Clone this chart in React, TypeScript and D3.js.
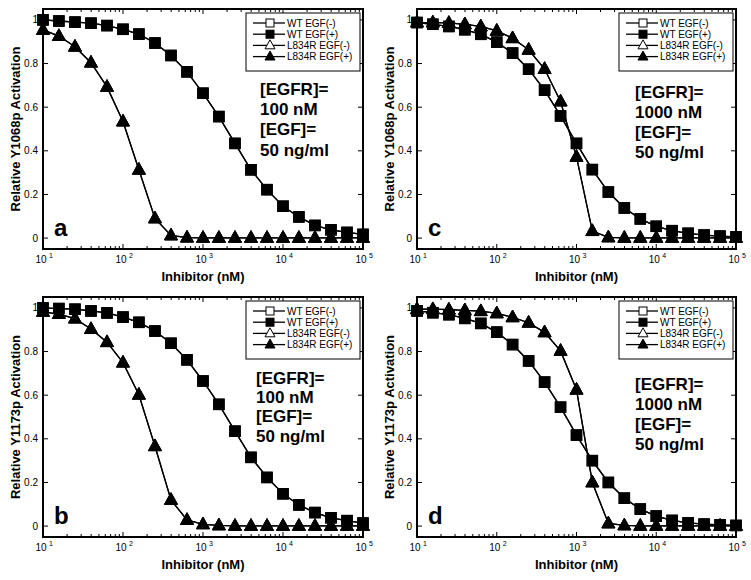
import React from "react";
import * as d3 from "d3";

// Inhibitor concentrations (nM)
const conc = [10, 15.8, 25.1, 39.8, 63.1, 100, 158, 251, 398, 631, 1000, 1580, 2510, 3980, 6310, 10000, 15800, 25100, 39800, 63100, 100000];

// Panel a: Y1068p, [EGFR]=100 nM
const wtA = [1.0, 0.995, 0.99, 0.985, 0.974, 0.957, 0.935, 0.894, 0.837, 0.762, 0.664, 0.557, 0.434, 0.313, 0.222, 0.146, 0.097, 0.058, 0.038, 0.026, 0.017];
const mutA = [0.954, 0.926, 0.877, 0.804, 0.693, 0.534, 0.313, 0.09, 0.012, 0.002, 0.001, 0.001, 0.001, 0.001, 0.001, 0.001, 0.001, 0.001, 0.001, 0.001, 0.001];
// Panel b: Y1173p, [EGFR]=100 nM
const wtB = [1.0, 0.997, 0.994, 0.986, 0.977, 0.958, 0.934, 0.894, 0.838, 0.762, 0.665, 0.558, 0.435, 0.315, 0.223, 0.148, 0.097, 0.062, 0.038, 0.025, 0.014];
const mutB = [0.982, 0.972, 0.951, 0.903, 0.843, 0.749, 0.602, 0.366, 0.12, 0.028, 0.008, 0.003, 0.001, 0.001, 0.001, 0.001, 0.001, 0.001, 0.001, 0.001, 0.001];
// Panel c: Y1068p, [EGFR]=1000 nM
const wtC = [0.988, 0.98, 0.97, 0.955, 0.934, 0.898, 0.848, 0.774, 0.678, 0.56, 0.434, 0.314, 0.211, 0.138, 0.088, 0.054, 0.034, 0.022, 0.014, 0.009, 0.006];
const mutC = [0.988, 0.988, 0.986, 0.98, 0.97, 0.95, 0.916, 0.863, 0.775, 0.626, 0.372, 0.032, 0.003, 0.001, 0.001, 0.001, 0.001, 0.001, 0.001, 0.001, 0.001];
// Panel d: Y1173p, [EGFR]=1000 nM
const wtD = [0.986, 0.978, 0.969, 0.952, 0.929, 0.889, 0.832, 0.757, 0.66, 0.545, 0.417, 0.3, 0.2, 0.128, 0.078, 0.046, 0.026, 0.015, 0.009, 0.006, 0.003];
const mutD = [0.994, 0.994, 0.992, 0.989, 0.985, 0.975, 0.957, 0.932, 0.888, 0.803, 0.625, 0.2, 0.012, 0.003, 0.001, 0.001, 0.001, 0.001, 0.001, 0.001, 0.001];

const legendLabels = ["WT EGF(-)", "WT EGF(+)", "L834R EGF(-)", "L834R EGF(+)"];
const yTicks = [0, 0.2, 0.4, 0.6, 0.8, 1];
const yTickLabels = ["0", "0.2", "0.4", "0.6", "0.8", "1"];
const xTicks = [10, 100, 1000, 10000, 100000];
const xTickExps = ["1", "2", "3", "4", "5"];
const notes100 = ["[EGFR]=", "100 nM", "[EGF]=", "50 ng/ml"];
const notes1000 = ["[EGFR]=", "1000 nM", "[EGF]=", "50 ng/ml"];
const yLabel1068 = "Relative Y1068p Activation";
const yLabel1173 = "Relative Y1173p Activation";
const xLabel = "Inhibitor (nM)";

const FONT = "'Liberation Sans', Arial, Helvetica, sans-serif";

type PanelCfg = {
  letter: string;
  left: number; right: number; top: number; bottom: number;
  ylabel: string;
  wt: number[]; mut: number[];
  notes: string[];
  noteDx: number;
  noteY: number[];
};

const panels: PanelCfg[] = [
  { letter: "a", left: 43, right: 363, top: 9, bottom: 249, ylabel: yLabel1068, wt: wtA, mut: mutA, notes: notes100, noteDx: 217, noteY: [86, 106, 126, 147] },
  { letter: "c", left: 417, right: 736, top: 9, bottom: 249, ylabel: yLabel1068, wt: wtC, mut: mutC, notes: notes1000, noteDx: 218, noteY: [89, 109, 129, 149] },
  { letter: "b", left: 43, right: 363, top: 297, bottom: 537, ylabel: yLabel1173, wt: wtB, mut: mutB, notes: notes100, noteDx: 213, noteY: [87, 106, 125, 145] },
  { letter: "d", left: 417, right: 736, top: 297, bottom: 537, ylabel: yLabel1173, wt: wtD, mut: mutD, notes: notes1000, noteDx: 218, noteY: [93, 113, 133, 153] },
];

function Square({ x, y, s, fill }: { x: number; y: number; s: number; fill: string }) {
  return <rect x={x - s / 2} y={y - s / 2} width={s} height={s} fill={fill} stroke="#000" strokeWidth={1} />;
}
function Tri({ x, y, s, fill }: { x: number; y: number; s: number; fill: string }) {
  const h = s * 0.9;
  const pts = `${x},${y - h * 0.62} ${x - s / 2},${y + h * 0.38} ${x + s / 2},${y + h * 0.38}`;
  return <polygon points={pts} fill={fill} stroke="#000" strokeWidth={1} strokeLinejoin="miter" />;
}

function Panel({ p }: { p: PanelCfg }) {
  const x = d3.scaleLog().domain([10, 1e5]).range([p.left, p.right]);
  const y = d3.scaleLinear().domain([-0.05, 1.05]).range([p.bottom, p.top]);
  const line = d3.line<[number, number]>().x((d) => x(d[0])).y((d) => y(d[1]));
  const pairs = (vals: number[]) => conc.map((c, i) => [c, vals[i]] as [number, number]);

  const minor: number[] = [];
  for (let e = 1; e < 5; e++) for (let m = 2; m <= 9; m++) minor.push(m * Math.pow(10, e));

  const series = [
    { vals: p.mut, shape: "tri", fill: "#fff" },
    { vals: p.mut, shape: "tri", fill: "#000" },
    { vals: p.wt, shape: "sq", fill: "#fff" },
    { vals: p.wt, shape: "sq", fill: "#000" },
  ];
  const legendSeries = [
    { shape: "sq", fill: "#fff" },
    { shape: "sq", fill: "#000" },
    { shape: "tri", fill: "#fff" },
    { shape: "tri", fill: "#000" },
  ];
  const lgRight = p.right - 3;
  const lgLeft = lgRight - 114;
  const lgTop = p.top + 4;
  const midY = (p.top + p.bottom) / 2;

  return (
    <g>
      {series.map((s, i) => (
        <g key={i}>
          <path d={line(pairs(s.vals)) || ""} fill="none" stroke="#000" strokeWidth={1.3} />
          {pairs(s.vals).map((d, j) =>
            s.shape === "sq" ? (
              <Square key={j} x={x(d[0])} y={y(d[1])} s={10.5} fill={s.fill} />
            ) : (
              <Tri key={j} x={x(d[0])} y={y(d[1])} s={13} fill={s.fill} />
            )
          )}
        </g>
      ))}
      <rect x={p.left} y={p.top} width={p.right - p.left} height={p.bottom - p.top} fill="none" stroke="#000" strokeWidth={2} />
      {yTicks.map((t, i) => (
        <g key={"yt" + i}>
          <line x1={p.left} x2={p.left + 5} y1={y(t)} y2={y(t)} stroke="#000" strokeWidth={1} />
          <line x1={p.right} x2={p.right - 5} y1={y(t)} y2={y(t)} stroke="#000" strokeWidth={1} />
          <text x={p.left - 5} y={y(t)} dy="0.35em" textAnchor="end" fontSize={10} fontFamily={FONT}>
            {yTickLabels[i]}
          </text>
        </g>
      ))}
      {xTicks.map((t, i) => (
        <g key={"xt" + i}>
          <line x1={x(t)} x2={x(t)} y1={p.bottom} y2={p.bottom - 5} stroke="#000" strokeWidth={1} />
          <line x1={x(t)} x2={x(t)} y1={p.top} y2={p.top + 5} stroke="#000" strokeWidth={1} />
          <text x={x(t) - 2} y={p.bottom + 14} textAnchor="middle" fontSize={10} fontFamily={FONT}>
            10
          </text>
          <text x={x(t) + 6} y={p.bottom + 9} textAnchor="start" fontSize={7} fontFamily={FONT}>
            {xTickExps[i]}
          </text>
        </g>
      ))}
      {minor.map((t, i) => (
        <g key={"mn" + i}>
          <line x1={x(t)} x2={x(t)} y1={p.bottom} y2={p.bottom - 3} stroke="#000" strokeWidth={1} />
          <line x1={x(t)} x2={x(t)} y1={p.top} y2={p.top + 3} stroke="#000" strokeWidth={1} />
        </g>
      ))}
      <text x={(p.left + p.right) / 2} y={p.bottom + 32} textAnchor="middle" fontSize={13} fontWeight="bold" fontFamily={FONT}>
        {xLabel}
      </text>
      <text transform={`translate(${p.left - 23.5},${midY}) rotate(-90)`} textAnchor="middle" fontSize={13} fontWeight="bold" fontFamily={FONT}>
        {p.ylabel}
      </text>
      <text x={p.left + 11} y={p.bottom - 13} fontSize={24} fontWeight="bold" fontFamily={FONT}>
        {p.letter}
      </text>
      {p.notes.map((n, i) => (
        <text key={"n" + i} x={p.left + p.noteDx} y={p.top + p.noteY[i]} fontSize={17} fontWeight="bold" fontFamily={FONT}>
          {n}
        </text>
      ))}
      <rect x={lgLeft} y={lgTop} width={114} height={58} fill="#fff" stroke="#000" strokeWidth={1} />
      {legendLabels.map((l, i) => {
        const ly = lgTop + 10 + i * 11.2;
        const s = legendSeries[i];
        return (
          <g key={"lg" + i}>
            <line x1={lgLeft + 7} x2={lgLeft + 39} y1={ly} y2={ly} stroke="#000" strokeWidth={1.3} />
            {s.shape === "sq" ? (
              <Square x={lgLeft + 24} y={ly} s={8} fill={s.fill} />
            ) : (
              <Tri x={lgLeft + 24} y={ly} s={10} fill={s.fill} />
            )}
            <text x={lgLeft + 41} y={ly} dy="0.35em" fontSize={10} fontFamily={FONT}>
              {l}
            </text>
          </g>
        );
      })}
    </g>
  );
}

export default function App() {
  return (
    <svg width={751} height={580} style={{ position: "absolute", left: 0, top: 0, background: "#fff" }}>
      <rect width={751} height={580} fill="#fff" />
      {panels.map((p) => (
        <Panel key={p.letter} p={p} />
      ))}
    </svg>
  );
}
